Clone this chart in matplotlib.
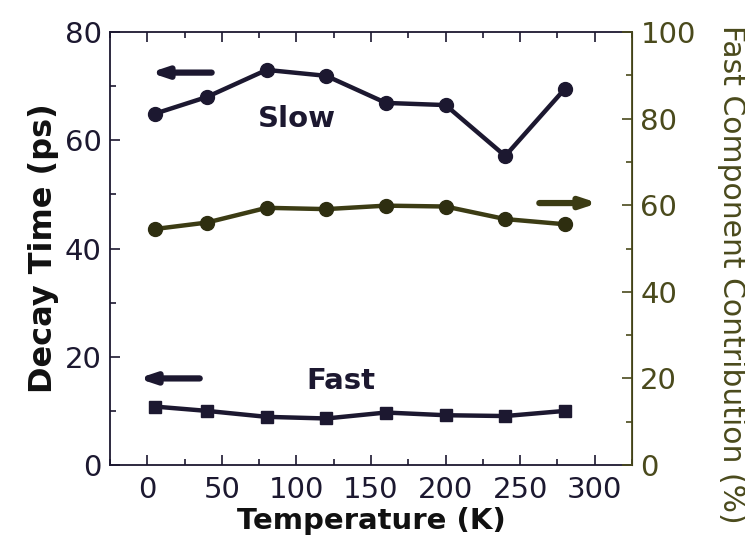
import matplotlib
matplotlib.use("Agg")
import matplotlib.pyplot as plt
from matplotlib.ticker import MultipleLocator

temperature = [5, 40, 80, 120, 160, 200, 240, 280]
slow_decay = [64.9, 68.0, 73.0, 71.9, 66.9, 66.5, 57.1, 69.5]
fast_decay = [10.8, 10.0, 8.9, 8.6, 9.7, 9.2, 9.05, 10.0]
fast_contribution = [54.5, 56.0, 59.4, 59.1, 59.9, 59.7, 56.8, 55.6]

dark = "#1c1830"
olive = "#3c3c14"
olive_txt = "#4a4a1c"

plt.rcParams['font.family'] = ['DejaVu Sans']

fig = plt.figure(figsize=(7.45, 5.5), dpi=100)
ax = fig.add_axes([0.1477, 0.1545, 0.7006, 0.7873])
ax2 = ax.twinx()

ax.plot(temperature, slow_decay, color=dark, lw=3.2, marker='o', ms=10, zorder=3)
ax.plot(temperature, fast_decay, color=dark, lw=3.2, marker='s', ms=9, zorder=3)
ax2.plot(temperature, fast_contribution, color=olive, lw=3.2, marker='o', ms=10,
         markerfacecolor="#2e2e10", markeredgecolor="#2e2e10", zorder=3)

ax.set_xlim(-25, 325)
ax.set_ylim(0, 80)
ax2.set_ylim(0, 100)

ax.xaxis.set_major_locator(MultipleLocator(50))
ax.xaxis.set_minor_locator(MultipleLocator(25))
ax.yaxis.set_major_locator(MultipleLocator(20))
ax.yaxis.set_minor_locator(MultipleLocator(10))
ax2.yaxis.set_major_locator(MultipleLocator(20))
ax2.yaxis.set_minor_locator(MultipleLocator(10))

ax.tick_params(axis='x', which='both', direction='in', top=True, labelsize=21,
               colors=dark, pad=8)
ax.tick_params(axis='y', which='both', direction='in', labelsize=21, colors=dark, pad=6)
ax.tick_params(which='major', length=7, width=1.2)
ax.tick_params(which='minor', length=4, width=1.2)
ax2.tick_params(axis='y', which='both', direction='in', labelsize=21,
                colors=olive_txt, pad=6)
ax2.tick_params(which='major', length=7, width=1.2)
ax2.tick_params(which='minor', length=4, width=1.2)

for s in ['left', 'bottom', 'top']:
    ax.spines[s].set_color(dark)
    ax.spines[s].set_linewidth(1.3)
ax2.spines['right'].set_color(olive_txt)
ax2.spines['right'].set_linewidth(1.3)
for s in ['left', 'bottom', 'top']:
    ax2.spines[s].set_visible(False)

ax.set_xlabel("Temperature (K)", fontsize=21, fontweight='bold', color="#111111", labelpad=2)
ax.set_ylabel("Decay Time (ps)", fontsize=23, fontweight='bold', color="#111111", labelpad=4)
ax2.set_ylabel("Fast Component Contribution (%)", fontsize=21.5, color=olive_txt,
               rotation=270, va='center', ha='center')
ax2.yaxis.set_label_coords(1.19, 0.44)

ax.text(100, 64, "Slow", fontsize=21, fontweight='bold', color=dark, ha='center', va='center')
ax.text(130, 15.5, "Fast", fontsize=21, fontweight='bold', color=dark, ha='center', va='center')

arrow_kw = dict(arrowstyle='-|>,head_length=0.9,head_width=0.3', lw=4.5)
ax.annotate("", xy=(0, 72.5), xytext=(45, 72.5),
            arrowprops=dict(color=dark, **arrow_kw))
ax.annotate("", xy=(-8, 16), xytext=(37, 16),
            arrowprops=dict(color=dark, **arrow_kw))
ax2.annotate("", xy=(304, 60.5), xytext=(261, 60.5),
             arrowprops=dict(color=olive, **arrow_kw))

fig.savefig("out.png", dpi=100)
